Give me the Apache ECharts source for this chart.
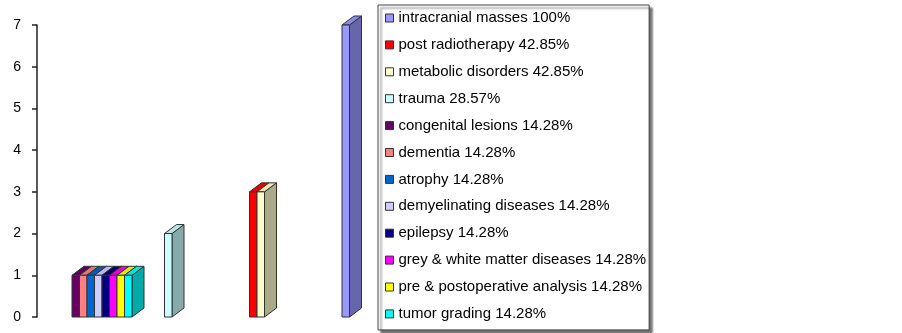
<!DOCTYPE html>
<html>
<head>
<meta charset="utf-8">
<script src="https://cdn.jsdelivr.net/npm/echarts@6/dist/echarts.min.js"></script>
<style>
  html, body { margin: 0; padding: 0; background: #fff; }
  #chart { width: 902px; height: 333px; }
</style>
</head>
<body>
<div id="chart"></div>
<script>
// groups on the hidden x axis (bars grouped by number of cases)
var categories = ['1', '2', '3', '7'];

var seriesNames = [
    'intracranial masses 100%',
    'post radiotherapy 42.85%',
    'metabolic disorders 42.85%',
    'trauma 28.57%',
    'congenital lesions 14.28%',
    'dementia 14.28%',
    'atrophy 14.28%',
    'demyelinating diseases 14.28%',
    'epilepsy 14.28%',
    'grey & white matter diseases 14.28%',
    'pre & postoperative analysis 14.28%',
    'tumor grading 14.28%'
];
// value of each series, per category (null = no bar)
var seriesValues = [
    [null, null, null, 7],
    [null, null, 3, null],
    [null, null, 3, null],
    [null, 2, null, null],
    [1, null, null, null],
    [1, null, null, null],
    [1, null, null, null],
    [1, null, null, null],
    [1, null, null, null],
    [1, null, null, null],
    [1, null, null, null],
    [1, null, null, null]
];
var yTicks = [0, 1, 2, 3, 4, 5, 6, 7];

var colors = ['#9999FF', '#FF0000', '#FFFFCC', '#CCFFFF', '#660066', '#FF8080',
    '#0066CC', '#CCCCFF', '#000080', '#FF00FF', '#FFFF00', '#00FFFF'];

function shade(hex, f) {
    var n = parseInt(hex.slice(1), 16);
    var r = Math.round(((n >> 16) & 255) * f);
    var g = Math.round(((n >> 8) & 255) * f);
    var b = Math.round((n & 255) * f);
    return 'rgb(' + r + ',' + g + ',' + b + ')';
}

var DX = 12, DY = 9;          // depth of the pseudo 3d bars
var GAP = 0.1;                 // category gap
var edge = '#333';

function makeRender(idx) {
    return function (params, api) {
        var cat = api.value(0), val = api.value(1);
        var base = api.coord([cat, 0]);
        var top = api.coord([cat, val]);
        var band = api.size([1, 0])[0];
        var w = band * (1 - GAP) / seriesNames.length;
        var x0 = base[0] - band * (1 - GAP) / 2 + idx * w;
        var x1 = x0 + w;
        var yb = base[1], yt = top[1];
        var c = colors[idx];
        var line = { stroke: edge, lineWidth: 1 };
        return {
            type: 'group',
            children: [
                { type: 'polygon', shape: { points: [[x1, yb], [x1, yt], [x1 + DX, yt - DY], [x1 + DX, yb - DY]] },
                  style: Object.assign({ fill: shade(c, 0.667) }, line) },
                { type: 'polygon', shape: { points: [[x0, yt], [x1, yt], [x1 + DX, yt - DY], [x0 + DX, yt - DY]] },
                  style: Object.assign({ fill: shade(c, 0.9) }, line) },
                { type: 'rect', shape: { x: x0, y: yt, width: w, height: yb - yt },
                  style: Object.assign({ fill: c }, line) }
            ]
        };
    };
}

var series = [];
for (var i = 0; i < seriesNames.length; i++) {
    var data = [];
    for (var k = 0; k < categories.length; k++) {
        if (seriesValues[i][k] != null) data.push([k, seriesValues[i][k]]);
    }
    series.push({
        name: seriesNames[i],
        type: 'custom',
        renderItem: makeRender(i),
        itemStyle: { color: colors[i], borderColor: edge, borderWidth: 1 },
        encode: { x: 0, y: 1 },
        data: data,
        clip: false
    });
}

var chart = echarts.init(document.getElementById('chart'));
chart.setOption({
    animation: false,
    backgroundColor: '#fff',
    grid: { left: 37, right: 465, top: 25, bottom: 16, containLabel: false },
    xAxis: {
        type: 'category',
        data: categories,
        boundaryGap: true,
        show: false
    },
    yAxis: {
        type: 'value',
        min: yTicks[0],
        max: yTicks[yTicks.length - 1],
        interval: 1,
        axisLine: { show: true, lineStyle: { color: '#222', width: 1.5 } },
        axisTick: { show: true, length: 5, lineStyle: { color: '#222', width: 1.5 } },
        axisLabel: { color: '#000', fontSize: 14, fontFamily: 'Arial, Liberation Sans', margin: 16 },
        splitLine: { show: false }
    },
    legend: {
        orient: 'vertical',
        left: 378,
        top: 5,
        data: seriesNames,
        icon: 'rect',
        itemWidth: 8,
        itemHeight: 8,
        itemGap: 8.9,
        itemStyle: { borderColor: edge, borderWidth: 1 },
        padding: [4, 3, 7, 7],
        selectedMode: false,
        backgroundColor: '#fff',
        borderColor: '#444',
        borderWidth: 1,
        shadowColor: 'rgba(0,0,0,0.55)',
        shadowBlur: 2,
        shadowOffsetX: 3,
        shadowOffsetY: 3,
        textStyle: { color: '#000', fontSize: 15, lineHeight: 18, fontFamily: 'Arial, Liberation Sans' }
    },
    series: series
});
</script>
</body>
</html>
